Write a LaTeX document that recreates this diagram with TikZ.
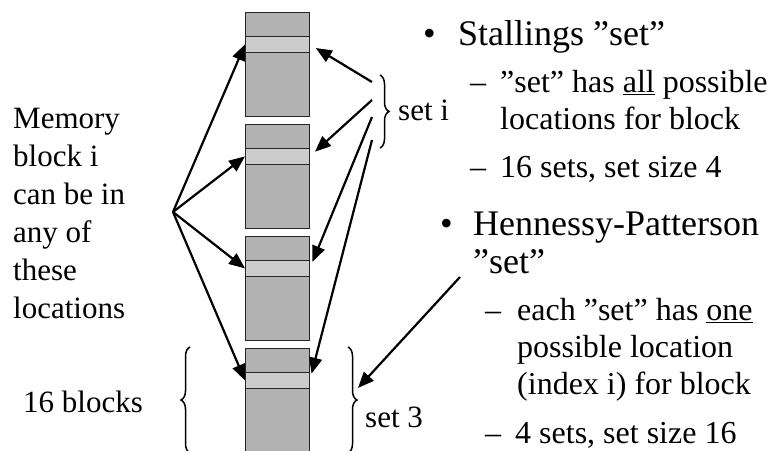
\documentclass[tikz,border=0pt]{standalone}
\usepackage{fontspec}
\setmainfont{Liberation Serif}
\usetikzlibrary{arrows.meta,decorations.pathreplacing}

\tikzset{
  memblk/.style={draw=black!85, line width=0.8pt, fill=black!30, minimum width=64pt, minimum height=104pt, inner sep=0pt, anchor=north west},
  memline/.style={draw=black!85, line width=0.8pt, fill=black!20, minimum width=64pt, minimum height=16pt, inner sep=0pt, anchor=north west},
  ptr/.style={->, line width=2.2pt},
  lbl/.style={font=\fontsize{31}{38}\selectfont, inner sep=0pt, anchor=base west, align=left},
  head/.style={font=\fontsize{36}{38}\selectfont, inner sep=0pt, anchor=base west, align=left},
  sub/.style={font=\fontsize{32}{37}\selectfont, inner sep=0pt, anchor=base west, align=left},
  curly/.style={decorate, decoration={brace, amplitude=9pt}, line width=1.5pt}
}

\begin{document}
\begin{tikzpicture}[x=1pt, y=-1pt, >={Triangle[length=16pt,width=13pt]}]
        \clip (0,0) rectangle (774,450);

        \foreach \n/\y in {1/12, 2/124, 3/236, 4/348}
        {
            \node [memblk] (blk\n) at (245,\y) {};
            \node [memline] (ln\n) at (245,\y+24) {};
        }

        \coordinate (fan) at (173,212);
        \foreach \n/\y in {1/82, 2/100, 3/117, 4/140}
        {
            \coordinate (s\n) at (372,\y);
            \draw [ptr] (fan) -- (ln\n.west);
            \draw [ptr, shorten >=7pt] (s\n) -- (ln\n.east);
        }

        \draw [curly] (380,75) -- (380,148);
        \draw [curly] (348,347) -- (348,453);
        \draw [curly] (190,453) -- (190,347);

        % multi-line nodes sit on the baseline of their last line
        \node [lbl] (mem) at (13,318) {Memory\\block i\\can be in\\any of\\these\\locations};
        \node [lbl] (seti) at (398,120) {set i};
        \node [lbl] (nblk) at (23,412) {16 blocks};
        \node [lbl] (set3) at (365,427) {set 3};

        \node [head] (dot1) at (423,45) {•};
        \node [head] (st) at (458,45) {Stallings ”set”};
        \node [sub] (dash1) at (470,92) {–};
        \node [sub] (st1) at (500,129) {”set” has \underline{all} possible\\locations for block};
        \node [sub] (dash2) at (470,177) {–};
        \node [sub] (st2) at (500,177) {16 sets, set size 4};
        \node [head] (dot2) at (440,235) {•};
        \node [head] (hp) at (473,273) {Hennessy-Patterson\\”set”};
        \node [sub] (dash3) at (485,320) {–};
        \node [sub] (hp1) at (517,394) {each ”set” has \underline{one}\\possible location\\(index i) for block};
        \node [sub] (dash4) at (485,443) {–};
        \node [sub] (hp2) at (515,443) {4 sets, set size 16};

        \coordinate (hpset) at (460,277);
        \coordinate (set3tip) at (358,388);
        \draw [ptr] (hpset) -- (set3tip);
    \end{tikzpicture}
\end{document}
